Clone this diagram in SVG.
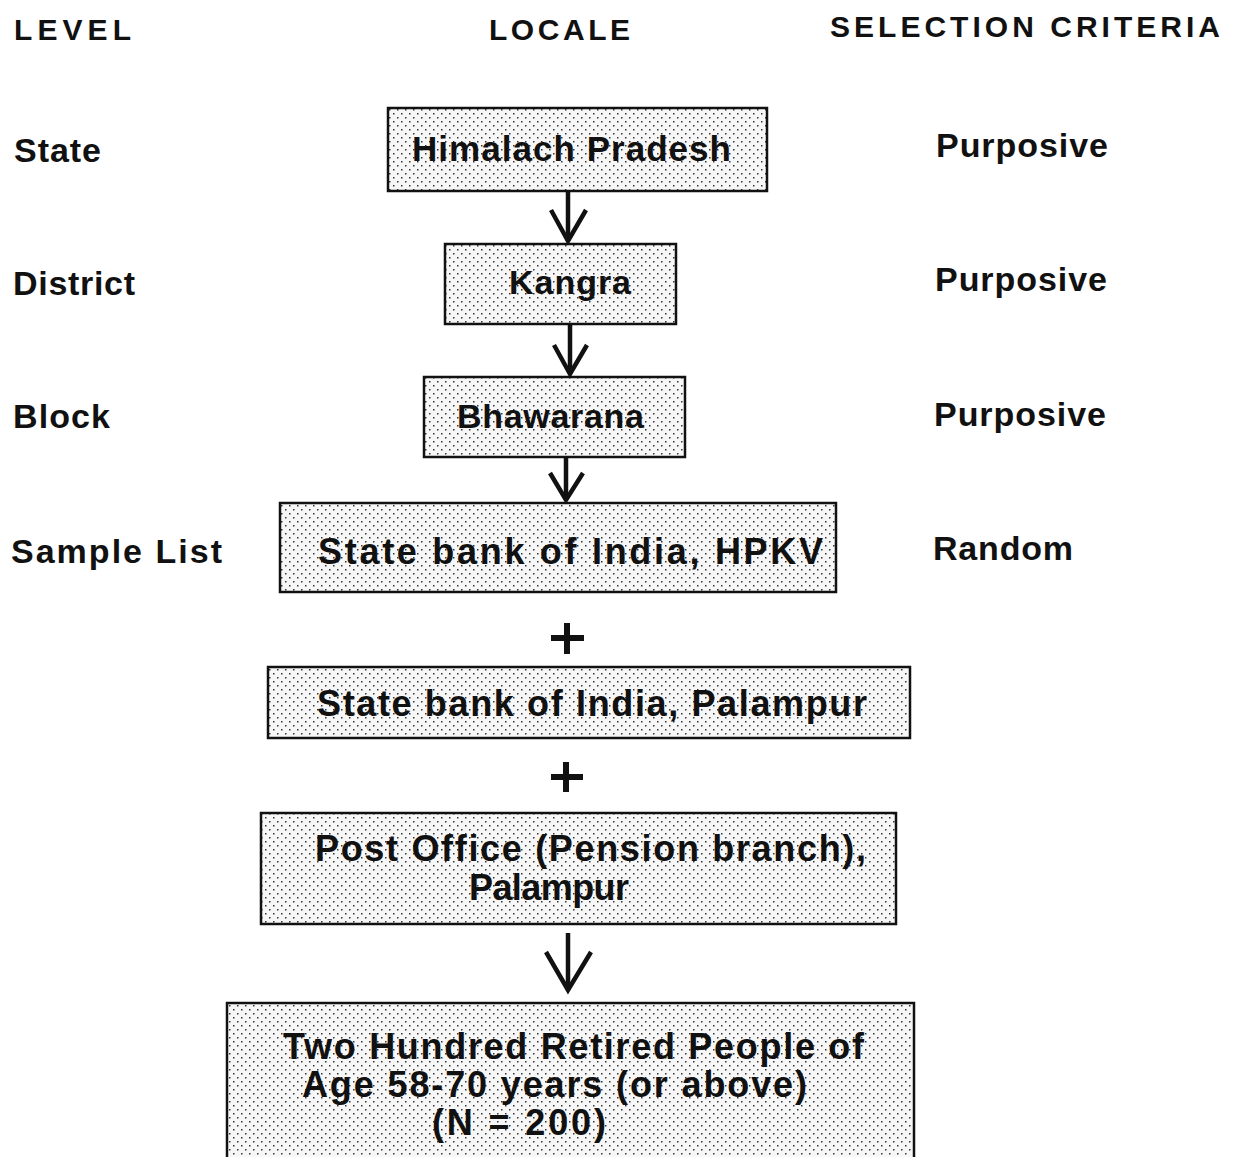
<svg xmlns="http://www.w3.org/2000/svg" width="1234" height="1157" viewBox="0 0 1234 1157">
<style>
text{font-family:"Liberation Sans",Arial,sans-serif;font-weight:bold;font-size:34px;fill:#111}
.hdr{font-size:30px}
.bt{font-size:36px}
.box{fill:url(#dots);stroke:#111;stroke-width:2.5}
.conn line,.conn polyline{stroke:#111;stroke-width:4.5;fill:none;stroke-linejoin:miter}
.conn .plus{stroke-width:6}
</style>
<defs>
<pattern id="dots" width="8" height="8" patternUnits="userSpaceOnUse">
<rect width="8" height="8" fill="#f7f7f7"/>
<rect x="1" y="1" width="1.5" height="1.5" fill="#333"/>
<rect x="5" y="5" width="1.5" height="1.5" fill="#333"/>
</pattern>
</defs>
<rect width="1234" height="1157" fill="#fff"/>
<g id="headers">
<text class="hdr" x="14" y="40" textLength="117" lengthAdjust="spacing">LEVEL</text>
<text class="hdr" x="489" y="40" textLength="141" lengthAdjust="spacing">LOCALE</text>
<text class="hdr" x="830" y="37" textLength="390" lengthAdjust="spacing">SELECTION  CRITERIA</text>
</g>
<g id="levels">
<text x="14" y="162" textLength="87" lengthAdjust="spacing">State</text>
<text x="13" y="295" textLength="122" lengthAdjust="spacing">District</text>
<text x="13" y="428" textLength="97" lengthAdjust="spacing">Block</text>
<text x="11" y="563" textLength="211" lengthAdjust="spacing">Sample  List</text>
</g>
<g id="criteria">
<text x="936" y="157" textLength="172" lengthAdjust="spacing">Purposive</text>
<text x="935" y="291" textLength="172" lengthAdjust="spacing">Purposive</text>
<text x="934" y="426" textLength="172" lengthAdjust="spacing">Purposive</text>
<text x="933" y="560" textLength="140" lengthAdjust="spacing">Random</text>
</g>
<g id="n1"><rect class="box" x="388" y="108" width="379" height="83"/><text class="bt" x="412" y="161" textLength="319" lengthAdjust="spacing" style="font-size:35px">Himalach  Pradesh</text></g>
<g id="n2"><rect class="box" x="445" y="244" width="231" height="80"/><text class="bt" x="509" y="294" textLength="122" lengthAdjust="spacing" style="font-size:34px">Kangra</text></g>
<g id="n3"><rect class="box" x="424" y="377" width="261" height="80"/><text class="bt" x="457" y="428" textLength="187" lengthAdjust="spacing" style="font-size:34px">Bhawarana</text></g>
<g id="n4"><rect class="box" x="280" y="503" width="556" height="89"/><text class="bt" x="318" y="564" textLength="505" lengthAdjust="spacing">State  bank  of  India, HPKV</text></g>
<g id="n5"><rect class="box" x="268" y="667" width="642" height="71"/><text class="bt" x="317" y="716" textLength="550" lengthAdjust="spacing">State  bank  of  India,  Palampur</text></g>
<g id="n6"><rect class="box" x="261" y="813" width="635" height="111"/><text class="bt" x="315" y="861" textLength="551" lengthAdjust="spacing">Post  Office  (Pension  branch),</text><text class="bt" x="469" y="900" textLength="160" lengthAdjust="spacing">Palampur</text></g>
<g id="n7"><rect class="box" x="227" y="1003" width="687" height="170"/><text class="bt" x="283" y="1059" textLength="581" lengthAdjust="spacing">Two  Hundred  Retired  People  of</text><text class="bt" x="302" y="1097" textLength="505" lengthAdjust="spacing">Age  58-70  years  (or  above)</text><text class="bt" x="432" y="1135" textLength="174" lengthAdjust="spacing">(N  =  200)</text></g>
<g class="conn" id="connectors">
<line x1="568" y1="191" x2="568" y2="241"/><polyline points="551,210 568,241 586,210"/>
<line x1="570" y1="324" x2="570" y2="374"/><polyline points="554,345 570,374 587,345"/>
<line x1="566" y1="457" x2="566" y2="500"/><polyline points="550,473 566,500 583,473"/>
<line x1="568" y1="933" x2="568" y2="990"/><polyline points="546,952 568,990 591,952"/>
<g id="plus1"><line class="plus" x1="551" y1="638" x2="584" y2="638"/><line class="plus" x1="567" y1="623" x2="567" y2="654"/></g>
<g id="plus2"><line class="plus" x1="551" y1="777" x2="583" y2="777"/><line class="plus" x1="566" y1="762" x2="566" y2="792"/></g>
</g>
</svg>
